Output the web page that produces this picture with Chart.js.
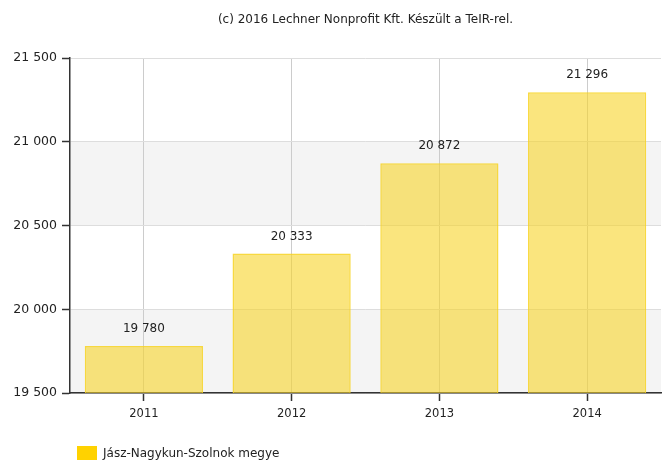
<!DOCTYPE html>
<html><head><meta charset="utf-8">
<script src="https://cdn.jsdelivr.net/npm/chart.js@4"></script>
<style>html,body{margin:0;padding:0;background:#fff}#w{width:662px;height:462px}</style>
</head><body><div id="w"><canvas id="c" width="662" height="462"></canvas></div>
<script>
const categories = ['2011', '2012', '2013', '2014'];
const values = [19780, 20333, 20872, 21296];
const seriesName = 'Jász-Nagykun-Szolnok megye';
const titleText = '(c) 2016 Lechner Nonprofit Kft. Készült a TeIR-rel.';
const yMin = 19500, yMax = 21500, yStep = 500;

const fmt = v => String(v).replace(/\B(?=(\d{3})+(?!\d))/g, ' ');
const FONT = '"DejaVu Sans", Verdana, sans-serif';

const bands = {
  id: 'bands',
  beforeDraw(chart) {
    const {ctx, chartArea: a, scales: {y}} = chart;
    ctx.save();
    ctx.fillStyle = '#f4f4f4';
    for (let v = yMin; v < yMax; v += yStep * 2) {
      const t = y.getPixelForValue(v + yStep), b = y.getPixelForValue(v);
      ctx.fillRect(a.left, t, a.right - a.left, b - t);
    }
    ctx.restore();
  }
};

const extras = {
  id: 'extras',
  afterDatasetsDraw(chart) {
    const {ctx, chartArea: a} = chart;
    const meta = chart.getDatasetMeta(0);
    ctx.save();
    ctx.fillStyle = '#222';
    ctx.font = '12px ' + FONT;
    ctx.textAlign = 'center';
    ctx.textBaseline = 'bottom';
    meta.data.forEach((bar, i) => {
      ctx.fillText(fmt(values[i]), bar.x, bar.y - 11);
    });
    // title
    ctx.font = '12px ' + FONT;
    ctx.textBaseline = 'middle';
    ctx.fillText(titleText, (a.left + a.right) / 2, 20);
    // legend
    ctx.fillStyle = '#ffd200';
    ctx.fillRect(77, 446, 20, 14);
    ctx.fillStyle = '#222';
    ctx.textAlign = 'left';
    ctx.font = '12px ' + FONT;
    ctx.fillText(seriesName, 103, 454);
    ctx.restore();
  }
};

new Chart(document.getElementById('c'), {
  type: 'bar',
  data: {
    labels: categories,
    datasets: [{
      label: seriesName,
      data: values,
      backgroundColor: 'rgba(247,212,40,0.6)',
      borderColor: 'rgba(247,210,30,0.85)',
      borderWidth: 1.5,
      categoryPercentage: 0.8,
      barPercentage: 1
    }]
  },
  options: {
    responsive: false,
    animation: false,
    layout: {padding: {top: 58, right: 1, bottom: 39, left: 0}},
    plugins: {legend: {display: false}, title: {display: false}, tooltip: {enabled: false}},
    scales: {
      x: {
        grid: {color: '#cccccc', lineWidth: 1, tickLength: 8, tickColor: '#333', tickWidth: 1.5, offset: false, drawOnChartArea: true},
        border: {color: '#333', width: 1.5},
        ticks: {color: '#222', font: {family: FONT, size: 11.5}, padding: 6},
        afterFit(s) { s.height = 30; }
      },
      y: {
        min: yMin, max: yMax,
        grid: {color: '#dddddd', tickLength: 8, tickColor: '#333', tickWidth: 1.5},
        border: {color: '#333', width: 1.5},
        ticks: {stepSize: yStep, color: '#222', font: {family: FONT, size: 12.5}, padding: 5,
          callback: v => fmt(v)},
        afterFit(s) { s.width = 70; }
      }
    }
  },
  plugins: [bands, extras]
});
</script>
</body></html>
